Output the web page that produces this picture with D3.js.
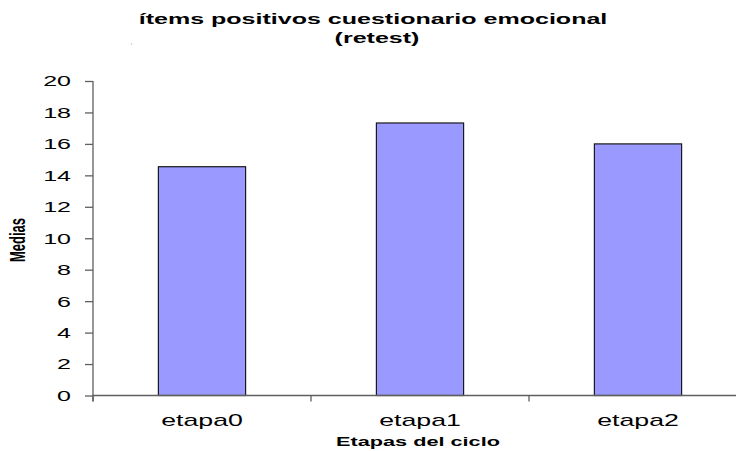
<!DOCTYPE html>
<html>
<head>
<meta charset="utf-8">
<script src="https://cdn.jsdelivr.net/npm/d3@7/dist/d3.min.js"></script>
<style>
  html, body { margin: 0; padding: 0; background: #fff; }
  svg { display: block; }
  text { font-family: "Liberation Sans", Arial, sans-serif; fill: #000; }
</style>
</head>
<body>
<svg id="chart" width="736" height="451"></svg>
<script>
const categories = ["etapa0", "etapa1", "etapa2"];
const values = [14.55, 17.33, 16.0];
const yTicks = [0, 2, 4, 6, 8, 10, 12, 14, 16, 18, 20];
const titleLines = ["ítems positivos cuestionario emocional", "(retest)"];
const xTitle = "Etapas del ciclo";
const yTitle = "Medias";

(function () {
const W = 736;
const SX = 1.67; // horizontal text stretch seen in the reference
const mLeft = 93, mRight = 747, mTop = 81, mBottom = 395.5;
const axisColor = "#5f5f5f";

const svg = d3.select("#chart");

const x = d3.scaleBand().domain(categories).range([mLeft, mRight])
  .paddingInner(0.6).paddingOuter(0.3);
const y = d3.scaleLinear().domain([0, 20]).range([mBottom, mTop]);

function stretchedText(g, str, px, py, opts) {
  const t = g.append("text")
    .attr("transform", `translate(${px},${py}) scale(${SX},1)`)
    .attr("text-anchor", opts.anchor || "middle")
    .attr("font-size", opts.size)
    .attr("font-weight", opts.weight || "normal")
    .text(str);
  if (opts.baseline) t.attr("dominant-baseline", opts.baseline);
  return t;
}

// Title
const tg = svg.append("g");
stretchedText(tg, titleLines[0], 373, 24, { size: 15, weight: "bold" });
stretchedText(tg, titleLines[1], 377, 43, { size: 15, weight: "bold" });

// Bars
svg.append("g").selectAll("rect").data(values).join("rect")
  .attr("x", (d, i) => x(categories[i]))
  .attr("y", d => y(d))
  .attr("width", x.bandwidth())
  .attr("height", d => y(0) - y(d))
  .attr("fill", "#9999FF")
  .attr("stroke", "#1a1a1a")
  .attr("stroke-width", 1.2);

// Y axis
const yAxis = svg.append("g")
  .attr("transform", `translate(${mLeft},0)`)
  .call(d3.axisLeft(y).tickValues(yTicks).tickSize(8).tickSizeOuter(0).tickFormat(""));
yAxis.selectAll("path, line").attr("stroke", axisColor).attr("stroke-width", 1.3);
yAxis.select("path.domain").attr("d", `M0,${mTop}V${mBottom + 6}`);

// Y tick labels
const yl = svg.append("g");
yTicks.forEach(v => {
  stretchedText(yl, String(v), 71, y(v), { size: 15, anchor: "end", baseline: "central" });
});

// X axis
const xg = svg.append("g");
xg.append("line")
  .attr("x1", mLeft).attr("x2", W)
  .attr("y1", y(0)).attr("y2", y(0))
  .attr("stroke", axisColor).attr("stroke-width", 1.3);
const step = x.step();
const gap = step * x.paddingOuter();
categories.forEach(c => {
  const bx = x(c) - gap;
  xg.append("line")
    .attr("x1", bx).attr("x2", bx)
    .attr("y1", y(0)).attr("y2", y(0) + 6)
    .attr("stroke", axisColor).attr("stroke-width", 1.3);
});

// X tick labels
categories.forEach(c => {
  stretchedText(xg, c, x(c) + x.bandwidth() / 2, 426, { size: 16 });
});

// Axis titles
stretchedText(svg, xTitle, 418, 446, { size: 13, weight: "bold" });
svg.append("text")
  .attr("transform", `translate(25,240) scale(${SX},1) rotate(-90)`)
  .attr("text-anchor", "middle")
  .attr("font-size", 13)
  .attr("font-weight", "bold")
  .text(yTitle);

// faint stray mark near the title
svg.append("rect").attr("x", 131).attr("y", 43.5).attr("width", 1.2).attr("height", 1.2).attr("fill", "#bbb");
})();
</script>
</body>
</html>
